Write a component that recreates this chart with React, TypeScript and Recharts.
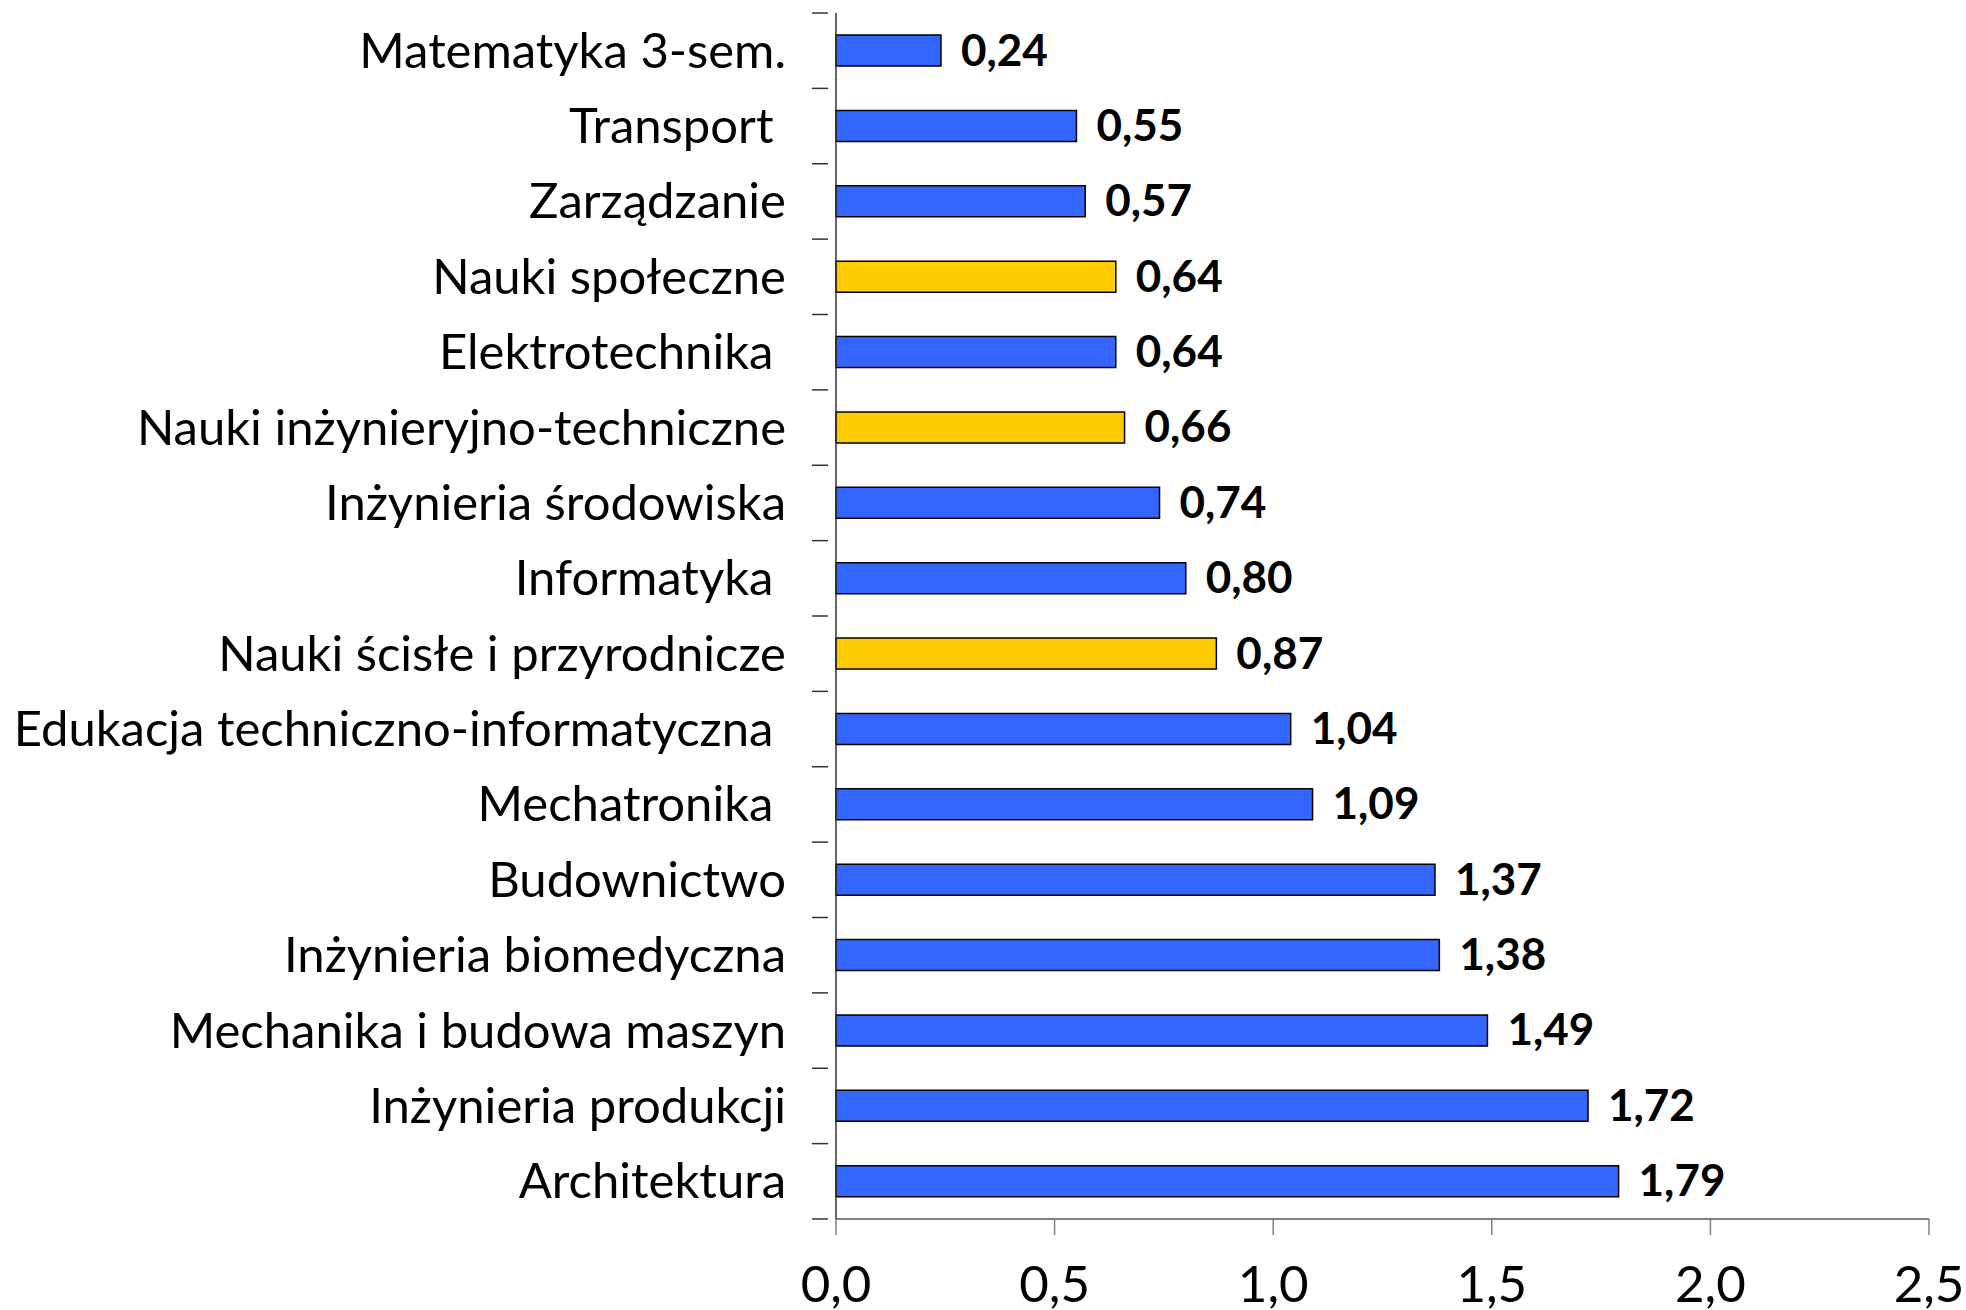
import React from 'react';
import { BarChart, Bar, XAxis, YAxis, Cell, LabelList } from 'recharts';

const categories = [
  'Matematyka 3-sem.',
  'Transport ',
  'Zarządzanie',
  'Nauki społeczne',
  'Elektrotechnika ',
  'Nauki inżynieryjno-techniczne',
  'Inżynieria środowiska',
  'Informatyka ',
  'Nauki ścisłe i przyrodnicze',
  'Edukacja techniczno-informatyczna ',
  'Mechatronika ',
  'Budownictwo',
  'Inżynieria biomedyczna',
  'Mechanika i budowa maszyn',
  'Inżynieria produkcji',
  'Architektura',
];

const values = [0.24, 0.55, 0.57, 0.64, 0.64, 0.66, 0.74, 0.8, 0.87, 1.04, 1.09, 1.37, 1.38, 1.49, 1.72, 1.79];

// disciplines (drawn in yellow), the rest are fields of study
const disciplines = ['Nauki społeczne', 'Nauki inżynieryjno-techniczne', 'Nauki ścisłe i przyrodnicze'];

const xTicks = [0, 0.5, 1, 1.5, 2, 2.5];

const data = categories.map((name, i) => ({ name, value: values[i] }));

const W = 1966;
const H = 1310;
const PLOT_TOP = 13;
const PLOT_BOTTOM = 1219;
const Y_AXIS_W = 836;
const BAND = (PLOT_BOTTOM - PLOT_TOP) / categories.length;
const FONT = 'Lato, "Open Sans", sans-serif';

const fmt = (v: number, d: number) => v.toFixed(d).replace('.', ',');

const CategoryTick = (props: any) => {
  const { x, y, payload, index } = props;
  const top = y - BAND / 2;
  const last = index === categories.length - 1;
  return (
    <g>
      <line x1={x - 16} x2={x} y1={top} y2={top} stroke="#333" strokeWidth={1.5} />
      {last && <line x1={x - 16} x2={x} y1={y + BAND / 2} y2={y + BAND / 2} stroke="#333" strokeWidth={1.5} />}
      <text
        x={x - 42}
        y={y + 17}
        textAnchor="end"
        xmlSpace="preserve"
        style={{ whiteSpace: 'pre' }}
        fill="#000"
        fontSize={49}
        fontFamily={FONT}
      >
        {payload.value}
      </text>
    </g>
  );
};

const ValueTick = (props: any) => {
  const { x, y, payload } = props;
  return (
    <text x={x} y={y + 67} textAnchor="middle" fill="#000" fontSize={51} fontFamily={FONT}>
      {fmt(payload.value, 1)}
    </text>
  );
};

const ValueLabel = (props: any) => {
  const { x, y, width, height, value } = props;
  return (
    <text
      x={x + width + 20}
      y={y + height / 2 + 15}
      fill="#000"
      fontSize={44}
      fontWeight="bold"
      fontFamily={FONT}
    >
      {fmt(value, 2)}
    </text>
  );
};

export default function App() {
  return (
    <div style={{ position: 'fixed', top: 0, left: 0, width: W, height: H, background: '#fff' }}>
      <BarChart
        width={W}
        height={H}
        data={data}
        layout="vertical"
        margin={{ top: PLOT_TOP, right: 37, bottom: 0, left: 0 }}
        barCategoryGap={0}
      >
        <XAxis
          type="number"
          domain={[0, 2.5]}
          ticks={xTicks}
          height={H - PLOT_BOTTOM}
          axisLine={{ stroke: '#808080', strokeWidth: 2 }}
          tickLine={{ stroke: '#808080', strokeWidth: 1.5 }}
          tickSize={16}
          tickMargin={0}
          tick={<ValueTick />}
          interval={0}
        />
        <YAxis
          type="category"
          dataKey="name"
          width={Y_AXIS_W}
          axisLine={{ stroke: '#333', strokeWidth: 1.5 }}
          tickLine={false}
          tick={<CategoryTick />}
          interval={0}
        />
        <Bar dataKey="value" barSize={31} stroke="#000" strokeWidth={1.5} isAnimationActive={false}>
          {data.map((d) => (
            <Cell key={d.name} fill={disciplines.includes(d.name) ? '#FFCC00' : '#3366FF'} />
          ))}
          <LabelList dataKey="value" content={<ValueLabel />} />
        </Bar>
      </BarChart>
    </div>
  );
}
